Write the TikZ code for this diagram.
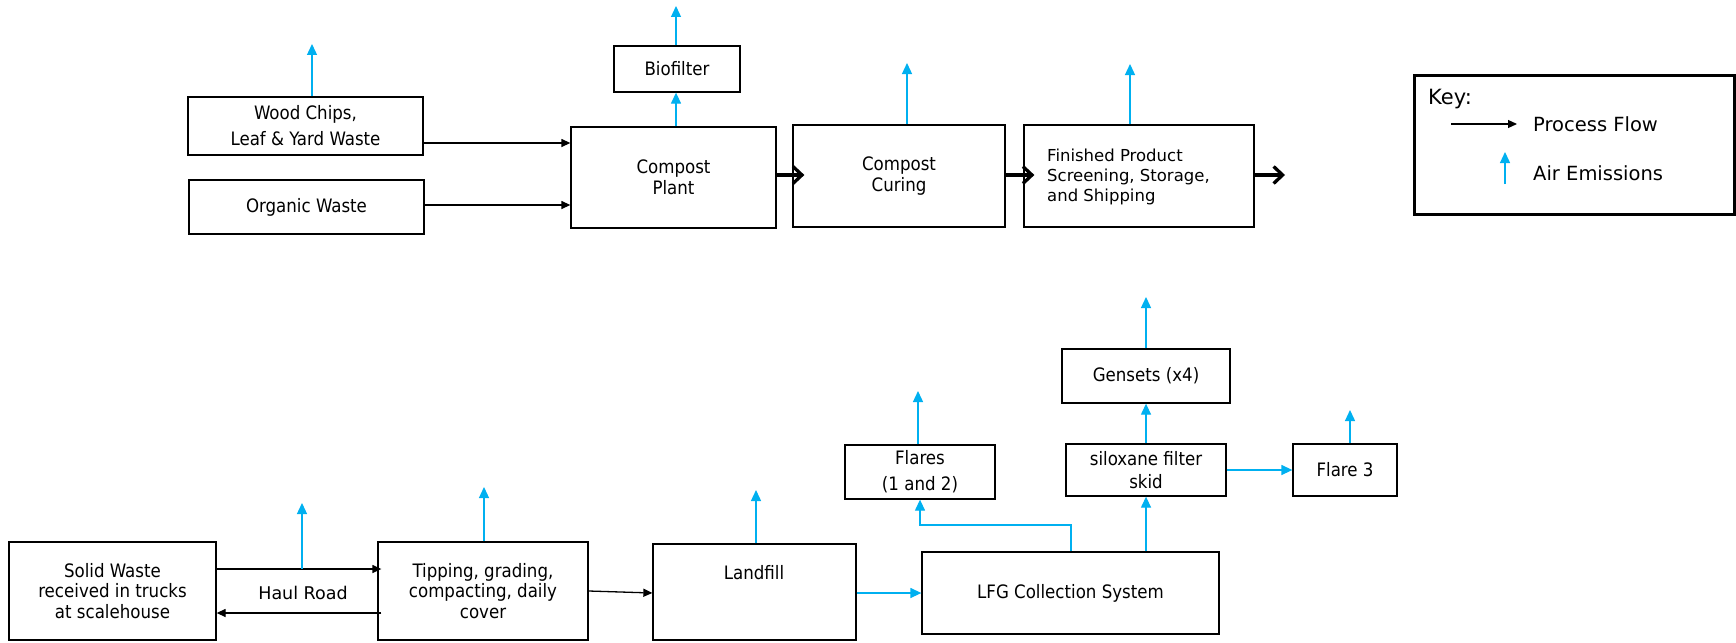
\documentclass[tikz,border=0pt]{standalone}
\usepackage{fontspec}
\setmainfont{DejaVu Sans}
\newfontfamily\condfont{DejaVu Sans Condensed}
\usetikzlibrary{arrows.meta}
\definecolor{emis}{RGB}{0,176,240}

\tikzset{
  box/.style={draw=black, line width=1.3pt, fill=white, inner sep=0pt, align=center,
    font=\condfont\fontsize{18.5}{21.5}\selectfont},
  wide/.style={font=\fontsize{16.5}{20}\selectfont},
  keytext/.style={font=\fontsize{19.5}{22}\selectfont},
  txt/.style={inner sep=0pt, align=center, font=\condfont\fontsize{18.5}{21.5}\selectfont},
  flow/.style={draw=black, line width=1.3pt, -{Triangle[length=9pt,width=8pt]}},
  bigflow/.style={draw=black, line width=3.3pt, -{Straight Barb[length=9pt,width=17pt]}},
  emit/.style={draw=emis, line width=1.3pt, -{Triangle[length=11pt,width=10pt]}},
  keybox/.style={draw=black, line width=3pt, fill=white, inner sep=0pt},
}

\begin{document}
\begin{tikzpicture}[x=1pt, y=-1pt]
\fill[white] (0,0) rectangle (1736,642);
\useasboundingbox (0,0) rectangle (1736,642);

% ---------------- compost line ----------------
\node[box, minimum width=235, minimum height=58, font=\condfont\fontsize{18.5}{26}\selectfont]
  (wood) at (305.5,126) {Wood Chips,\\Leaf \& Yard Waste};
\node[box, minimum width=235, minimum height=54] (organic) at (306.5,207) {Organic Waste};
\node[box, minimum width=205, minimum height=101] (plant) at (673.5,177.5) {Compost\\Plant};
\node[box, minimum width=126, minimum height=46] (biofilter) at (677,69) {Biofilter};
\node[box, minimum width=212, minimum height=102] (curing) at (899,176) {Compost\\Curing};
\node[box, minimum width=230, minimum height=102] (finished) at (1139,176) {};
\node[txt, wide, anchor=west, align=left] (finishedtext) at (1047,177)
  {Finished Product\\Screening, Storage,\\and Shipping};

\draw[flow] (wood.east |- 0,143) -- (plant.west |- 0,143);
\draw[flow] (organic.east |- 0,205) -- (plant.west |- 0,205);
% thick transfer arrows reach a little way into the next box
\draw[bigflow] (plant.east |- 0,175) -- ([xshift=12pt]curing.west |- 0,175);
\draw[bigflow] (curing.east |- 0,175) -- ([xshift=11pt]finished.west |- 0,175);
\coordinate (out) at (1285,175);
\draw[bigflow] (finished.east |- out) -- (out);

\coordinate (woodE) at (312,44);
\coordinate (bioE) at (676,6);
\coordinate (curingE) at (907,63);
\coordinate (finishedE) at (1130,64);
\draw[emit] (wood.north -| woodE) -- (woodE);
\draw[emit] (plant.north -| bioE) -- (biofilter.south -| bioE);
\draw[emit] (biofilter.north -| bioE) -- (bioE);
\draw[emit] (curing.north -| curingE) -- (curingE);
\draw[emit] (finished.north -| finishedE) -- (finishedE);

% ---------------- key ----------------
\node[keybox, minimum width=320, minimum height=139] (key) at (1574,144.5) {};
\node[txt, anchor=west, font=\fontsize{21}{24}\selectfont] (keytitle) at (1428,99) {Key:};
\coordinate (keyflowA) at (1451,124);
\coordinate (keyflowB) at (1517,124);
\draw[flow, line width=1.1pt] (keyflowA) -- (keyflowB);
\node[txt, keytext, anchor=west] (keyflow) at (1533,124) {Process Flow};
\coordinate (keyemA) at (1505,184);
\coordinate (keyemB) at (1505,152);
\draw[emit] (keyemA) -- (keyemB);
\node[txt, keytext, anchor=west] (keyem) at (1533,173) {Air Emissions};

% ---------------- landfill line ----------------
\node[box, minimum width=207, minimum height=98, font=\condfont\fontsize{18.5}{20.5}\selectfont]
  (solid) at (112.5,591) {Solid Waste\\received in trucks\\at scalehouse};
\node[box, minimum width=210, minimum height=98, font=\condfont\fontsize{18.5}{20.5}\selectfont]
  (tipping) at (483,591) {Tipping, grading,\\compacting, daily\\cover};
\node[txt, font=\fontsize{17.5}{21}\selectfont] (haul) at (303,593) {Haul Road};

\draw[flow] (solid.east |- 0,569) -- ([xshift=4pt]tipping.west |- 0,569);
\draw[flow] ([xshift=4pt]tipping.west |- 0,613) -- (solid.east |- 0,613);
\coordinate (haulE) at (302,503);
\draw[emit] (haulE |- 0,569) -- (haulE);

\node[box, minimum width=203, minimum height=96] (landfill) at (754.5,592) {};
\node[txt] (landfilltext) at (754,573) {Landfill};
\draw[flow] (tipping.east |- 0,591) -- (landfill.west |- 0,593);

\coordinate (tippingE) at (484,487);
\coordinate (landfillE) at (756,490);
\draw[emit] (tipping.north -| tippingE) -- (tippingE);
\draw[emit] (landfill.north -| landfillE) -- (landfillE);

\node[box, minimum width=297, minimum height=82] (lfg) at (1070.5,593) {LFG Collection System};
\draw[emit] (landfill.east |- 0,593) -- (lfg.west |- 0,593);

\node[box, minimum width=150, minimum height=54, font=\condfont\fontsize{18.5}{26}\selectfont]
  (flares) at (920,472) {Flares\\(1 and 2)};
\node[box, minimum width=160, minimum height=52, font=\condfont\fontsize{18.5}{23}\selectfont]
  (siloxane) at (1146,470) {siloxane filter\\skid};
\node[box, minimum width=168, minimum height=54] (gensets) at (1146,376) {Gensets (x4)};
\node[box, minimum width=104, minimum height=52] (flare3) at (1345,470) {Flare 3};

\coordinate (elbow) at (1071,525);
\draw[emit] (lfg.north -| elbow) -- (elbow) -- (elbow -| flares.south) -- (flares.south);
\draw[emit] (lfg.north -| siloxane.south) -- (siloxane.south);
\draw[emit] (siloxane.north) -- (gensets.south);
\draw[emit] (siloxane.east) -- (flare3.west);

\coordinate (flaresE) at (918,391);
\coordinate (gensetsE) at (1146,297);
\coordinate (flare3E) at (1350,410);
\draw[emit] (flares.north -| flaresE) -- (flaresE);
\draw[emit] (gensets.north -| gensetsE) -- (gensetsE);
\draw[emit] (flare3.north -| flare3E) -- (flare3E);
\end{tikzpicture}
\end{document}
